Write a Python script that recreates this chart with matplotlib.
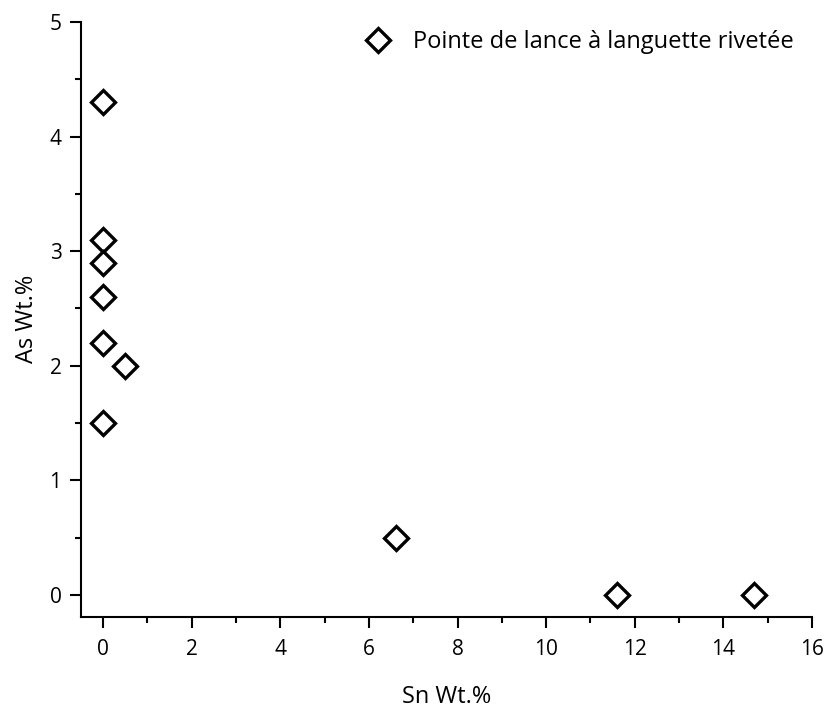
import matplotlib
matplotlib.use("Agg")
import matplotlib.pyplot as plt
from matplotlib.ticker import MultipleLocator

sn = [0, 0, 0, 0, 0, 0.5, 0, 6.6, 11.6, 14.7]
as_ = [4.3, 3.1, 2.9, 2.6, 2.2, 2.0, 1.5, 0.5, 0.0, 0.0]
label = "Pointe de lance à languette rivetée"

plt.rcParams['font.family'] = ['Open Sans', 'DejaVu Sans']
fig = plt.figure(figsize=(8.25, 7.09), dpi=100)
ax = fig.add_axes([81/825, 1-616.7/709, (812-81)/825, (616.7-22)/709])

ax.plot(sn, as_, linestyle='none', marker='D', markersize=12.5,
        markerfacecolor='white', markeredgecolor='black', markeredgewidth=2.4,
        label=label, clip_on=False)

ax.set_xlim(-0.5, 16)
ax.set_ylim(-0.19, 5)
ax.xaxis.set_major_locator(MultipleLocator(2))
ax.xaxis.set_minor_locator(MultipleLocator(1))
ax.yaxis.set_major_locator(MultipleLocator(1))
ax.yaxis.set_minor_locator(MultipleLocator(0.5))
for s in ['top', 'right']:
    ax.spines[s].set_visible(False)
for s in ['left', 'bottom']:
    ax.spines[s].set_linewidth(1.5)
ax.tick_params(which='major', direction='out', length=8, width=1.5, labelsize=15, colors='black')
ax.tick_params(axis='x', which='major', pad=8)
ax.tick_params(axis='y', which='major', pad=6)
ax.tick_params(which='minor', direction='out', length=4, width=1.5)
ax.set_xlabel("Sn Wt.%", fontsize=17, va='center')
ax.set_ylabel("As Wt.%", fontsize=17, va='center')
ax.xaxis.set_label_coords(0.5, (616.7-697)/594.7)
ax.yaxis.set_label_coords((27.5-81)/731, 0.5)

leg = ax.legend(loc='upper right', frameon=False, fontsize=17, handletextpad=0.9,
                handlelength=1.2, bbox_to_anchor=(0.995, 1.01), borderaxespad=0.2)

fig.savefig("out.png", dpi=100)
